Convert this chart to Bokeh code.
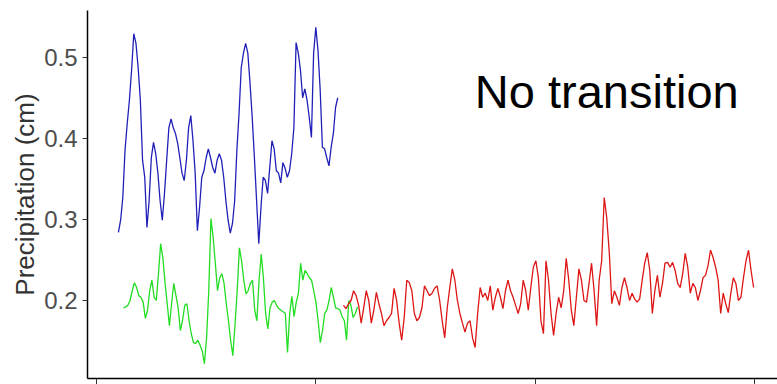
import numpy as np
from bokeh.plotting import figure
from bokeh.models import Range1d, FixedTicker, Label, CustomJSTickFormatter
from bokeh.embed import file_html
from bokeh.resources import INLINE

# ---- data ----
blue_start, blue_end = 10, 110
blue_vals = [0.284,0.299,0.327,0.385,0.418,0.447,0.484,0.529,0.517,0.487,
             0.447,0.373,0.352,0.290,0.323,0.376,0.395,0.381,0.357,0.323,
             0.299,0.332,0.373,0.413,0.424,0.413,0.406,0.394,0.376,0.357,
             0.348,0.373,0.413,0.428,0.397,0.357,0.286,0.315,0.352,0.360,
             0.376,0.387,0.376,0.364,0.357,0.373,0.381,0.373,0.352,0.323,
             0.299,0.283,0.295,0.323,0.385,0.431,0.487,0.505,0.517,0.505,
             0.468,0.426,0.376,0.323,0.270,0.315,0.352,0.348,0.332,0.364,
             0.397,0.387,0.360,0.357,0.345,0.370,0.363,0.352,0.360,0.381,
             0.413,0.518,0.505,0.484,0.450,0.461,0.447,0.426,0.401,0.505,
             0.537,0.508,0.459,0.389,0.387,0.376,0.366,0.389,0.406,0.438,
             0.450]

green_start, green_end = 12.3, 119
green_vals = [0.191,0.192,0.194,0.200,0.212,0.222,0.216,0.206,0.204,0.198,
              0.178,0.188,0.212,0.225,0.204,0.200,0.233,0.270,0.253,0.222,
              0.196,0.169,0.196,0.221,0.206,0.191,0.163,0.175,0.194,0.196,
              0.175,0.159,0.148,0.147,0.151,0.145,0.138,0.122,0.154,0.212,
              0.301,0.278,0.246,0.212,0.228,0.233,0.221,0.196,0.175,0.151,
              0.132,0.170,0.212,0.265,0.249,0.225,0.208,0.212,0.221,0.225,
              0.188,0.175,0.225,0.257,0.227,0.184,0.165,0.191,0.198,0.200,
              0.194,0.190,0.188,0.186,0.184,0.136,0.184,0.205,0.180,0.198,
              0.209,0.246,0.225,0.237,0.233,0.228,0.225,0.212,0.198,0.175,
              0.148,0.163,0.184,0.188,0.200,0.216,0.204,0.191,0.190,0.188,
              0.180,0.175,0.151,0.200,0.194,0.179,0.184,0.192]

red_start, red_end = 112.6, 299.6
red_vals = [0.194,0.190,0.196,0.200,0.212,0.206,0.194,0.172,0.191,0.212,
            0.200,0.172,0.188,0.210,0.196,0.184,0.169,0.175,0.179,0.184,
            0.215,0.200,0.172,0.151,0.179,0.225,0.222,0.212,0.184,0.175,
            0.179,0.191,0.218,0.212,0.206,0.209,0.215,0.218,0.200,0.175,
            0.154,0.191,0.216,0.239,0.225,0.200,0.184,0.172,0.161,0.172,
            0.175,0.154,0.142,0.184,0.216,0.204,0.209,0.200,0.218,0.188,
            0.204,0.215,0.204,0.190,0.212,0.225,0.212,0.204,0.194,0.184,
            0.196,0.225,0.212,0.188,0.216,0.241,0.249,0.228,
            0.175,0.159,0.249,0.225,0.184,0.157,0.184,0.204,0.191,0.212,
            0.252,0.225,0.188,0.169,0.204,0.239,0.225,0.200,0.198,0.221,
            0.246,0.212,0.169,0.225,0.249,0.327,0.302,0.259,0.196,0.212,
            0.204,0.194,0.216,0.228,0.216,0.200,0.209,0.202,0.198,0.202,
            0.225,0.246,0.259,0.237,0.184,0.212,0.231,0.204,0.221,0.246,
            0.247,0.241,0.247,0.237,0.221,0.216,0.233,0.258,0.241,0.209,
            0.221,0.216,0.200,0.212,0.228,0.231,0.243,0.262,0.253,0.241,
            0.225,0.184,0.209,0.196,0.185,0.209,0.228,0.221,0.200,0.204,
            0.228,0.249,0.262,0.237,0.216]

y_ticks = [0.2, 0.3, 0.4, 0.5]
x_ticks = [0, 100, 200, 300]
y_label = "Precipitation (cm)"
note = "No transition"

# ---- figure ----
FONT = "Liberation Sans"
p = figure(width=777, height=384, output_backend="svg", toolbar_location=None,
           min_border_left=87, min_border_right=0, min_border_top=10, min_border_bottom=6,
           x_range=Range1d(-4.1, 310.5), y_range=Range1d(0.1038, 0.5576))
p.outline_line_color = None
p.xgrid.visible = False
p.ygrid.visible = False
p.background_fill_color = "white"

for vals, start, end, color in [(blue_vals, blue_start, blue_end, "#2020b8"),
                                (green_vals, green_start, green_end, "#22dd22"),
                                (red_vals, red_start, red_end, "#dd1515")]:
    xs = np.linspace(start, end, len(vals))
    p.line(xs, vals, line_color=color, line_width=1.3)

p.yaxis.ticker = FixedTicker(ticks=y_ticks)
p.yaxis.minor_tick_line_color = None
p.yaxis.major_tick_out = 5
p.yaxis.major_tick_in = 0
p.yaxis.major_label_standoff = 5
p.yaxis.major_label_text_font = FONT
p.yaxis.major_label_text_font_size = "24px"
p.yaxis.major_label_text_color = "#4d4d4d"
p.yaxis.axis_line_color = "black"
p.yaxis.axis_line_width = 1.5
p.yaxis.major_tick_line_color = "#333333"
p.yaxis.axis_label = y_label
p.yaxis.axis_label_text_font = FONT
p.yaxis.axis_label_text_font_size = "26px"
p.yaxis.axis_label_text_font_style = "normal"
p.yaxis.axis_label_text_color = "#333333"
p.yaxis.axis_label_standoff = 1

p.xaxis.ticker = FixedTicker(ticks=x_ticks)
p.xaxis.formatter = CustomJSTickFormatter(code="return ''")
p.xaxis.minor_tick_line_color = None
p.xaxis.major_tick_out = 6
p.xaxis.major_tick_in = 0
p.xaxis.major_label_standoff = 0
p.xaxis.axis_line_color = "black"
p.xaxis.axis_line_width = 1.5
p.xaxis.major_tick_line_color = "#333333"

p.add_layout(Label(x=172.5, y=0.4904, text=note, text_font=FONT, text_font_size="47px",
                   text_color="black", text_baseline="top", text_align="left"))

open("out.html", "w").write(file_html(p, INLINE))
